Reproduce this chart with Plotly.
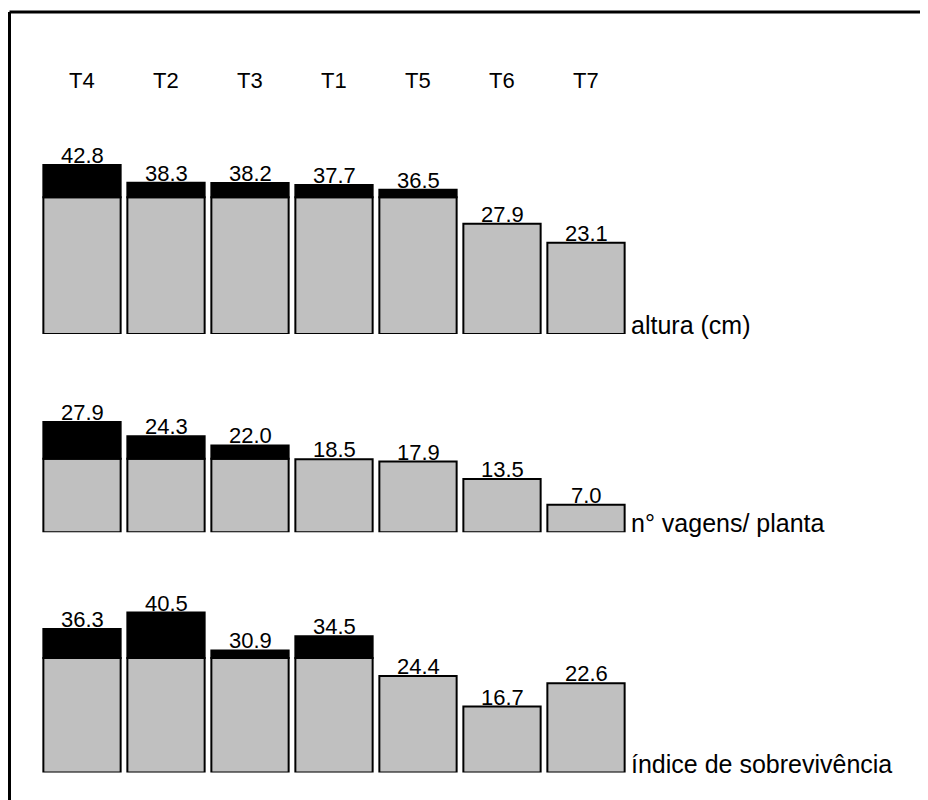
import plotly.graph_objects as go

# ---- data ----
treatments = ["T4", "T2", "T3", "T1", "T5", "T6", "T7"]
altura = [42.8, 38.3, 38.2, 37.7, 36.5, 27.9, 23.1]
vagens = [27.9, 24.3, 22.0, 18.5, 17.9, 13.5, 7.0]
sobrevivencia = [36.3, 40.5, 30.9, 34.5, 24.4, 16.7, 22.6]
panel_names = ["altura (cm)", "n° vagens/ planta", "índice de sobrevivência"]
reference_levels = [34.6, 18.6, 29.0]   # level above which the bar part is black

# the page places the figure 8 px from the top-left corner
OFF = 8.0
W, H = 920, 792
FONT = "Liberation Sans, Arial, sans-serif"
GREY = "#c0c0c0"


def px_x(p):
    return (p - OFF) / W


def px_y(p):
    return 1 - (p - OFF) / H


# layout geometry (pixels in the 928x800 window)
first_center, pitch = 82.0, 84.0
px_per_unit = 3.95
panels_px = [(334.0, 8.0), (532.3, 340.0), (772.5, 540.0)]  # (bottom, top)

fig = go.Figure()
x = list(range(len(treatments)))
series = [altura, vagens, sobrevivencia]

for k, (vals, ref, name) in enumerate(zip(series, reference_levels, panel_names)):
    yaxis = "y" if k == 0 else f"y{k+1}"
    grey = [min(v, ref) for v in vals]
    black = [(v - ref) if v > ref else None for v in vals]
    fig.add_trace(go.Bar(x=x, y=grey, yaxis=yaxis, width=0.92,
                         marker=dict(color=GREY, line=dict(color="black", width=2)),
                         showlegend=False, hoverinfo="skip"))
    fig.add_trace(go.Bar(x=x, y=black, base=[ref] * len(vals), yaxis=yaxis, width=0.92,
                         marker=dict(color="black", line=dict(color="black", width=2)),
                         showlegend=False, hoverinfo="skip"))
    for i, v in enumerate(vals):
        fig.add_annotation(x=i, y=v, xref="x", yref=yaxis, text=f"{v:.1f}",
                           showarrow=False, yanchor="bottom", yshift=-5,
                           font=dict(family=FONT, size=22, color="black"))
    bottom, top = panels_px[k]
    fig.add_annotation(x=px_x(629), y=px_y(bottom), xref="paper", yref="paper",
                       text=name, showarrow=False, xanchor="left", yanchor="bottom",
                       yshift=-7, font=dict(family=FONT, size=25, color="black"))

# treatment labels at top
for i, t in enumerate(treatments):
    fig.add_annotation(x=i, y=px_y(81), xref="x", yref="paper", text=t,
                       showarrow=False, yanchor="middle",
                       font=dict(family=FONT, size=22, color="black"))

axis_common = dict(visible=False, showgrid=False, zeroline=False, fixedrange=True)
layout_axes = {}
for k, (bottom, top) in enumerate(panels_px):
    key = "yaxis" if k == 0 else f"yaxis{k+1}"
    d = dict(domain=[px_y(bottom), px_y(top)],
             range=[0, (bottom - top) / px_per_unit], **axis_common)
    if k > 0:
        d["anchor"] = "x"
    layout_axes[key] = d

fig.update_layout(
    width=W, height=H,
    margin=dict(l=0, r=0, t=0, b=0),
    paper_bgcolor="white", plot_bgcolor="white",
    barmode="overlay",
    xaxis=dict(domain=[0, 1],
               range=[-(first_center - OFF) / pitch, (W + OFF - first_center) / pitch],
               **axis_common),
    shapes=[
        dict(type="line", xref="paper", yref="paper", x0=px_x(9.5), x1=1,
             y0=px_y(12), y1=px_y(12), line=dict(color="black", width=3)),
        dict(type="line", xref="paper", yref="paper", x0=px_x(9.5), x1=px_x(9.5),
             y0=px_y(12), y1=0, line=dict(color="black", width=3)),
    ],
    **layout_axes,
)

fig.write_html("out.html")
